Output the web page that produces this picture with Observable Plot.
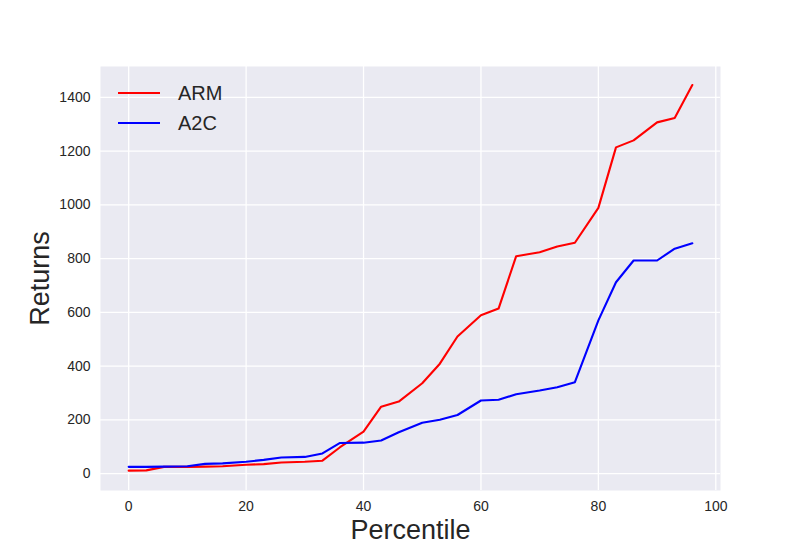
<!DOCTYPE html>
<html>
<head>
<meta charset="utf-8">
<script src="https://cdn.jsdelivr.net/npm/d3@7"></script>
<script src="https://cdn.jsdelivr.net/npm/@observablehq/plot@0.6"></script>
<style>
  html, body { margin: 0; padding: 0; background: #ffffff; }
  #wrap { position: relative; width: 800px; height: 550px; font-family: "Liberation Sans", Arial, sans-serif; }
  #legend { position: absolute; left: 118px; top: 78px; color: #262626; font-size: 20px; font-family: "Liberation Sans", Arial, sans-serif; }
  .item { display: flex; align-items: center; height: 30px; }
  .swatch { width: 42px; height: 0; border-top: 2.1px solid; margin-right: 18px; }
</style>
</head>
<body>
<div id="wrap"></div>
<script>
const percentile = [0, 3, 6, 10, 13, 16, 20, 23, 26, 30, 33, 36, 40, 43, 46, 50, 53, 56, 60, 63, 66, 70, 73, 76, 80, 83, 86, 90, 93, 96];
const arm = [11, 12, 25, 25, 26, 27, 33, 35, 41, 44, 48, 98, 156, 249, 268, 336, 409, 510, 589, 614, 809, 824, 845, 859, 989, 1214, 1240, 1307, 1323, 1446];
const a2c = [25, 25, 26, 27, 36, 38, 44, 51, 60, 62, 75, 114, 115, 123, 154, 189, 200, 218, 272, 275, 295, 309, 321, 340, 570, 712, 793, 793, 837, 857];
const seriesNames = ["ARM", "A2C"];
const seriesColors = ["#ff0000", "#0000ff"];
const xTicks = [0, 20, 40, 60, 80, 100];
const yTicks = [0, 200, 400, 600, 800, 1000, 1200, 1400];
const xLabel = "Percentile";
const yLabel = "Returns";

const rows = [];
percentile.forEach((p, i) => {
  rows.push({p, v: arm[i], s: seriesNames[0]});
  rows.push({p, v: a2c[i], s: seriesNames[1]});
});

const textColor = "#262626";
const chart = Plot.plot({
  width: 800,
  height: 550,
  marginLeft: 100,
  marginRight: 80,
  marginTop: 66,
  marginBottom: 60,
  style: { fontFamily: "'Liberation Sans', Arial, sans-serif", background: "#ffffff", overflow: "visible" },
  x: { domain: [-4.8, 100.8] },
  y: { domain: [-63, 1515] },
  color: { domain: seriesNames, range: seriesColors },
  marks: [
    Plot.frame({ fill: "#eaeaf2", stroke: null }),
    Plot.gridX(xTicks, { stroke: "#ffffff", strokeOpacity: 1, strokeWidth: 1.3 }),
    Plot.gridY(yTicks, { stroke: "#ffffff", strokeOpacity: 1, strokeWidth: 1.3 }),
    Plot.axisX(xTicks, { tickSize: 0, tickPadding: 11, fontSize: 14, color: textColor, label: null, tickFormat: d => String(d) }),
    Plot.axisY(yTicks, { tickSize: 0, tickPadding: 10, fontSize: 14, color: textColor, label: null, tickFormat: d => String(d) }),
    Plot.line(rows, { x: "p", y: "v", z: "s", stroke: "s", strokeWidth: 2.1 }),
    Plot.text([xLabel], { frameAnchor: "bottom", dy: 40, fontSize: 27, fill: textColor, text: d => d, lineAnchor: "middle", textAnchor: "middle" }),
    Plot.text([yLabel], { frameAnchor: "left", dx: -60, rotate: -90, fontSize: 27, fill: textColor, text: d => d, lineAnchor: "middle", textAnchor: "middle" })
  ]
});

const wrap = document.getElementById("wrap");
wrap.appendChild(chart);
const legend = document.createElement("div");
legend.id = "legend";
seriesNames.forEach((name, i) => {
  const item = document.createElement("div");
  item.className = "item";
  const sw = document.createElement("div");
  sw.className = "swatch";
  sw.style.borderTopColor = seriesColors[i];
  const lab = document.createElement("span");
  lab.textContent = name;
  item.appendChild(sw);
  item.appendChild(lab);
  legend.appendChild(item);
});
wrap.appendChild(legend);
</script>
</body>
</html>
